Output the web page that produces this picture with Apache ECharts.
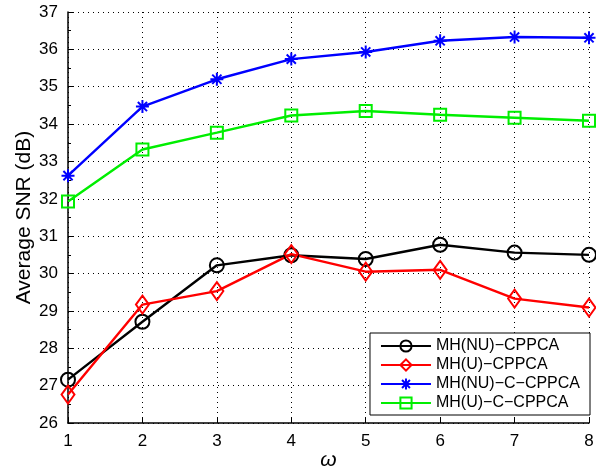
<!DOCTYPE html>
<html>
<head>
<meta charset="utf-8">
<script src="https://cdn.jsdelivr.net/npm/echarts@6/dist/echarts.min.js"></script>
<style>
html,body{margin:0;padding:0;background:#fff;}
#c{width:596px;height:469px;}
</style>
</head>
<body>
<div id="c"></div>
<script>
const omega = [1, 2, 3, 4, 5, 6, 7, 8];
const seriesNames = ['MH(NU)\u2212CPPCA', 'MH(U)\u2212CPPCA', 'MH(NU)\u2212C\u2212CPPCA', 'MH(U)\u2212C\u2212CPPCA'];
const mhNuCppca = [27.16, 28.71, 30.22, 30.49, 30.39, 30.77, 30.56, 30.50];
const mhUCppca = [26.76, 29.17, 29.53, 30.52, 30.05, 30.10, 29.33, 29.09];
const mhNuCCppca = [32.62, 34.47, 35.20, 35.74, 35.93, 36.23, 36.33, 36.31];
const mhUCCppca = [31.93, 33.32, 33.77, 34.23, 34.35, 34.25, 34.17, 34.09];
const yTicks = [26, 37, 1];

const FONT = "'Liberation Sans', Arial, Helvetica, sans-serif";
const pairs = arr => omega.map((x, i) => [x, arr[i]]);
const star = 'path://M0,-10L0,10M-10,0L10,0M-7.07,-7.07L7.07,7.07M-7.07,7.07L7.07,-7.07';

function mk(name, data, color, symbol, size) {
  return {
    name: name, type: 'line', data: pairs(data),
    symbol: symbol, symbolSize: size,
    lineStyle: {color: color, width: 2.4},
    itemStyle: {color: 'rgba(0,0,0,0)', borderColor: color, borderWidth: 2},
    emphasis: {disabled: true},
    animation: false
  };
}

const chart = echarts.init(document.getElementById('c'), null, {renderer: 'canvas'});
chart.setOption({
  backgroundColor: '#fff',
  animation: false,
  grid: {left: 68, right: 7, top: 12, bottom: 46, containLabel: false, outerBoundsMode: 'none'},
  legend: {
    right: 6, bottom: 54, orient: 'vertical',
    padding: [5, 10, 4, 10], itemGap: 3, itemWidth: 50, itemHeight: 14,
    backgroundColor: '#fff', borderColor: '#000', borderWidth: 1, borderRadius: 0,
    textStyle: {fontFamily: FONT, fontSize: 16, color: '#000'},
    data: seriesNames
  },
  xAxis: {
    type: 'value', min: omega[0], max: omega[omega.length - 1], interval: 1,
    name: '\u03c9', nameLocation: 'middle', nameGap: 27, nameMoveOverlap: false,
    nameTextStyle: {fontFamily: FONT, fontSize: 21, fontStyle: 'italic', color: '#000'},
    axisLine: {lineStyle: {color: '#000', width: 1.5}},
    axisTick: {inside: true, length: 5, lineStyle: {color: '#000'}},
    axisLabel: {fontFamily: FONT, fontSize: 17, color: '#000', margin: 10},
    splitLine: {show: true, lineStyle: {color: '#000', width: 1, type: [1, 4]}}
  },
  yAxis: {
    type: 'value', min: yTicks[0], max: yTicks[1], interval: yTicks[2],
    name: 'Average SNR (dB)', nameLocation: 'middle', nameGap: 33, nameMoveOverlap: false,
    nameTextStyle: {fontFamily: FONT, fontSize: 21, color: '#000'},
    axisLine: {show: true, lineStyle: {color: '#000', width: 1.5}},
    axisTick: {inside: true, length: 5, lineStyle: {color: '#000'}},
    minorTick: {show: true, splitNumber: 2, length: 3, lineStyle: {color: '#000'}},
    axisLabel: {fontFamily: FONT, fontSize: 17, color: '#000', margin: 10},
    splitLine: {show: true, lineStyle: {color: '#000', width: 1, type: [1, 4]}}
  },
  series: [
    mk(seriesNames[0], mhNuCppca, '#000000', 'circle', 14),
    mk(seriesNames[1], mhUCppca, '#ff0000', 'diamond', [13, 18]),
    mk(seriesNames[2], mhNuCCppca, '#0000ff', star, 13),
    mk(seriesNames[3], mhUCCppca, '#00ee00', 'rect', 12)
  ]
});
</script>
</body>
</html>
